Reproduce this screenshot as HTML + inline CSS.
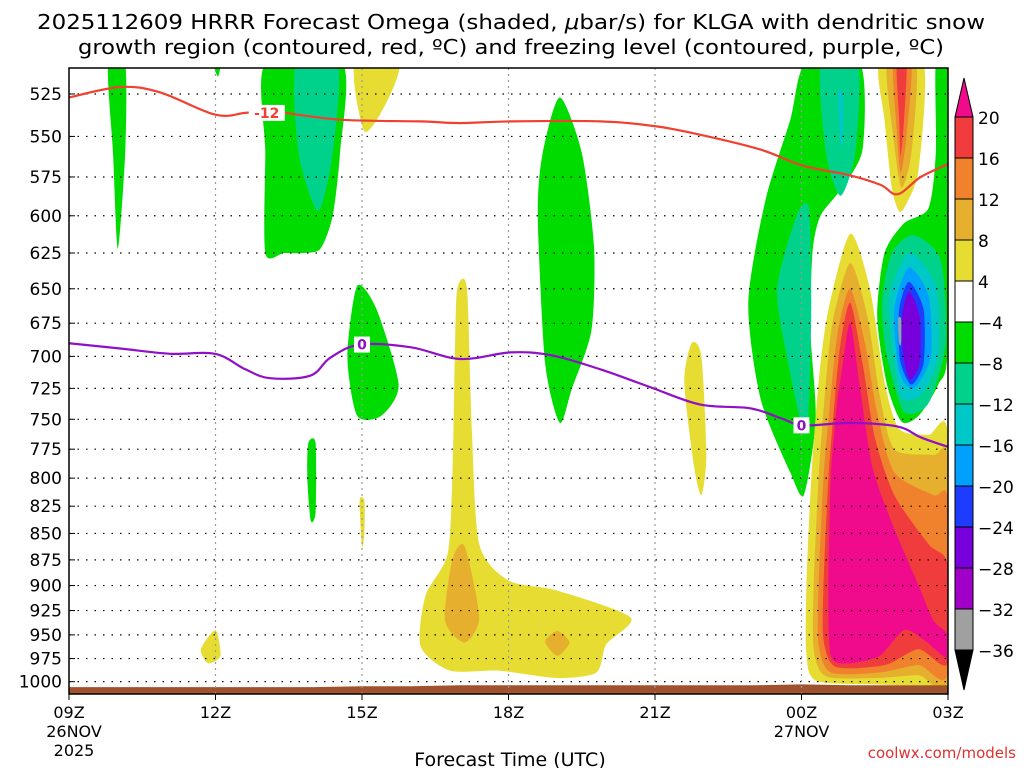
<!DOCTYPE html>
<html><head><meta charset="utf-8">
<style>
body{margin:0;background:#fff;width:1024px;height:768px;overflow:hidden;font-family:"DejaVu Sans","Liberation Sans",sans-serif;}
svg text{font-family:"DejaVu Sans","Liberation Sans",sans-serif;}
</style></head>
<body>
<svg id="chart" width="1024" height="768" viewBox="0 0 1024 768" xmlns="http://www.w3.org/2000/svg">
<text x="37" y="29" font-size="20" textLength="948" lengthAdjust="spacingAndGlyphs" fill="#000">2025112609 HRRR Forecast Omega (shaded, <tspan font-style="italic">μ</tspan>bar/s) for KLGA with dendritic snow</text>
<text x="78" y="54" font-size="20" textLength="866" lengthAdjust="spacingAndGlyphs" fill="#000">growth region (contoured, red, ºC) and freezing level (contoured, purple, ºC)</text>
<g id="fills"></g>
<g id="grid"></g>
<g id="lines"></g>
<g id="axes"></g>
<g id="cbar"></g>
<text x="510" y="766" font-size="19" text-anchor="middle">Forecast Time (UTC)</text>
<text x="1016" y="758" font-size="15" text-anchor="end" fill="#e03030">coolwx.com/models</text>
</svg>
<script>
const NS='http://www.w3.org/2000/svg';
const pLevels=[525,550,575,600,625,650,675,700,725,750,775,800,825,850,875,900,925,950,975,1000];
const timeLabels=['09Z','12Z','15Z','18Z','21Z','00Z','03Z'];
const timeHours=[0,3,6,9,12,15,18];
const dateLabels=[[0,'26NOV'],[0,'2025'],[15,'27NOV']];
const cbLevels=['20','16','12','8','4','−4','−8','−12','−16','−20','−24','−28','−32','−36'];
const cbColors=['#f03c3c','#f0822d','#e6af2d','#e6dc32','#ffffff','#00dc00','#00d28c','#00c8c8','#00a0ff','#1e3cff','#7800dc','#a000c8','#a0a0a0'];
const C={mag:'#f00a8c',red:'#f03c3c',org:'#f0822d',gold:'#e6af2d',yel:'#e6dc32',grn:'#00dc00',tgr:'#00d28c',cyn:'#00c8c8',sky:'#00a0ff',blu:'#1e3cff',vio:'#7800dc',pur:'#a000c8',gry:'#a0a0a0'};
const redHours=[0,1.05,1.86,2.99,3.61,4.12,5.55,7.19,8.01,9.04,10.88,12.03,12.93,14.16,15.04,16.0,16.62,16.97,17.44,18.0];
const redP=[527,521,524,537,536,535,540,541,542,541,541,544,549,558,568,574,580,586,575,567];
const purHours=[0,1.05,2.07,2.99,3.61,4.12,4.94,5.35,5.96,6.99,8.01,9.04,9.86,10.88,11.9,12.93,13.95,14.57,15.04,16.0,16.97,17.44,18.0];
const purP=[690,694,698,698,710,717,715,701,691,693,702,697,699,710,724,738,741,749,755,753,756,765,773];
const sfcP=[1006,1006,1006,1006,1006,1006,1005,1005,1004,1004,1004,1004,1004,1004,1004,1003,1004,1004,1004];
const regions=[
['grn',[[0.8,508],[1.15,508],[1.15,560],[1.0,622],[0.9,560]]],
['grn',[[2.95,508],[3.1,508],[3.05,515]]],
['grn',[[4.02,508],[5.6,508],[5.55,560],[5.4,600],[5.15,622],[4.8,625],[4.4,625],[4.02,625],[4.02,560]]],
['tgr',[[4.65,508],[5.5,508],[5.4,560],[5.1,597],[4.7,560]]],
['yel',[[5.85,508],[6.75,508],[6.5,530],[6.05,547]]],
['grn',[[9.6,600],[9.7,560],[10.05,527],[10.5,560],[10.75,620],[10.7,680],[10.3,725],[10.05,753],[9.75,705]]],
['grn',[[5.7,700],[5.9,648],[6.3,665],[6.75,722],[6.4,747],[5.9,747]]],
['yel',[[7.9,700],[7.95,650],[8.15,650],[8.25,760],[8.4,860],[9.0,895],[10.0,905],[11.5,932],[11.0,960],[10.8,990],[10.0,996],[8.8,988],[7.8,988],[7.2,962],[7.3,910],[7.75,870],[7.85,800]]],
['gold',[[7.85,875],[8.1,862],[8.4,932],[8.1,958],[7.7,935]]],
['gold',[[9.75,957],[10.0,946],[10.25,958],[10.0,972]]],
['yel',[[12.6,720],[12.75,690],[12.95,700],[13.05,780],[12.95,815],[12.8,790]]],
['grn',[[4.9,770],[5.05,770],[5.05,830],[4.95,838],[4.88,800]]],
['yel',[[5.95,820],[6.05,820],[6.05,850],[6.0,862]]],
['yel',[[2.7,965],[3.0,945],[3.1,972],[2.85,980]]],
['grn',[[15.08,508],[16.2,508],[16.25,558],[15.8,583],[15.39,600],[15.23,623],[15.18,679],[15.29,750],[15.05,815],[14.77,795],[14.16,733],[13.91,660],[14.26,590],[14.77,540]]],
['tgr',[[15.4,508],[16.15,508],[16.1,560],[15.8,587],[15.5,560]]],
['cyn',[[15.75,525],[15.85,525],[15.85,550],[15.8,555]]],
['tgr',[[14.9,600],[15.15,595],[15.2,660],[15.15,740],[15.05,762],[14.7,700],[14.5,650]]],
['grn',[[17.75,508],[18.0,508],[18.0,690],[17.8,722],[17.4,747],[17.05,752],[16.75,722],[16.55,670],[16.7,625],[17.1,605],[17.6,595],[17.75,560]]],
['tgr',[[17.3,613],[17.85,630],[17.95,690],[17.6,737],[17.1,744],[16.75,700],[16.65,660],[16.85,625]]],
['cyn',[[17.2,625],[17.75,648],[17.8,700],[17.45,730],[17.05,732],[16.85,690],[16.8,655]]],
['sky',[[17.2,635],[17.6,655],[17.65,700],[17.3,725],[17.0,712],[16.9,665]]],
['blu',[[17.2,645],[17.5,665],[17.5,705],[17.25,722],[17.02,703],[17.0,665]]],
['vio',[[17.2,652],[17.42,670],[17.42,705],[17.22,718],[17.08,698],[17.06,670]]],
['gry',[[16.98,672],[17.04,672],[17.04,690],[17.0,690]]],
['yel',[[16.6,508],[17.5,508],[17.4,570],[17.15,592],[17.0,597],[16.85,582],[16.7,540]]],
['gold',[[16.75,508],[17.35,508],[17.25,560],[17.05,582],[16.9,555]]],
['org',[[16.88,508],[17.25,508],[17.15,550],[17.03,572],[16.95,545]]],
['red',[[16.95,508],[17.15,508],[17.1,540],[17.03,562],[17.0,540]]],
['yel',[[15.55,665],[16.0,612],[16.4,650],[16.7,720],[17.0,758],[17.6,763],[18.0,763],[18.0,1003],[17.5,1004],[16.5,1003],[15.3,999],[15.1,970],[15.1,900],[15.2,800],[15.35,720]]],
['gold',[[15.65,672],[16.0,632],[16.35,670],[16.6,730],[16.9,775],[17.7,780],[18.0,785],[18.0,997],[17.4,993],[16.5,996],[15.5,994],[15.25,965],[15.25,900],[15.35,800],[15.5,720]]],
['org',[[15.75,680],[16.0,650],[16.3,690],[16.55,745],[16.9,795],[17.7,815],[18.0,820],[18.0,990],[17.4,982],[16.6,990],[15.6,990],[15.35,960],[15.35,900],[15.45,800],[15.6,730]]],
['red',[[15.8,690],[16.0,660],[16.25,705],[16.5,765],[16.9,815],[17.6,860],[18.0,880],[18.0,980],[17.4,965],[16.7,982],[15.7,984],[15.45,955],[15.45,900],[15.55,800],[15.68,735]]],
['mag',[[15.85,705],[16.0,675],[16.2,725],[16.45,790],[16.85,840],[17.4,900],[17.7,935],[18.0,950],[18.0,975],[17.5,955],[17.1,945],[16.6,972],[16.0,980],[15.6,972],[15.55,900],[15.6,800],[15.72,740]]]
];
const X0=69,X1=948,Y0=68,Y1=694,HX=(X1-X0)/18;
function xs(h){return X0+h*HX;}
function ys(p){return 94+912*Math.log(p/525);}
function mk(tag,attrs,parent){const e=document.createElementNS(NS,tag);for(const k in attrs)e.setAttribute(k,attrs[k]);parent.appendChild(e);return e;}
function smoothPath(pts,k){
  const n=pts.length;let d='M'+pts[0][0].toFixed(1)+','+pts[0][1].toFixed(1);
  for(let i=0;i<n;i++){const p0=pts[(i-1+n)%n],p1=pts[i],p2=pts[(i+1)%n],p3=pts[(i+2)%n];
    const c1=[p1[0]+(p2[0]-p0[0])/k,p1[1]+(p2[1]-p0[1])/k],c2=[p2[0]-(p3[0]-p1[0])/k,p2[1]-(p3[1]-p1[1])/k];
    d+='C'+c1[0].toFixed(1)+','+c1[1].toFixed(1)+' '+c2[0].toFixed(1)+','+c2[1].toFixed(1)+' '+p2[0].toFixed(1)+','+p2[1].toFixed(1);}
  return d+'Z';}
const svg=document.getElementById('chart');
const fills=document.getElementById('fills');
const clip=mk('clipPath',{id:'plotclip'},svg);
mk('rect',{x:X0,y:Y0,width:X1-X0,height:Y1-Y0},clip);
fills.setAttribute('clip-path','url(#plotclip)');
regions.forEach((r,i)=>{
  const pts=r[1].map(q=>[xs(q[0]),ys(q[1])]);
  const el=mk('path',{d:smoothPath(pts,8),fill:C[r[0]]},fills);
  
  
});
let gd='M'+xs(0)+','+Y1;
sfcP.forEach((p,i)=>{gd+='L'+xs(i).toFixed(1)+','+ys(p).toFixed(1);});
gd+='L'+xs(18)+','+Y1+'Z';
const gr=mk('path',{d:gd,fill:'#a0522d'},fills);


const grid=document.getElementById('grid');
pLevels.forEach(p=>{
  const l=mk('line',{x1:X0,x2:X1,y1:ys(p),y2:ys(p),stroke:'#000','stroke-width':1.2,'stroke-dasharray':'1.5,7'},grid);
  
  
});
timeHours.forEach(h=>{if(h>0&&h<18){
  const l=mk('line',{x1:xs(h),x2:xs(h),y1:Y0,y2:Y1,stroke:'#999','stroke-width':1.2,'stroke-dasharray':'2,4'},grid);
  
  
}});
const lines=document.getElementById('lines');
function drawLine(hs,ps,col,name,lbls){
  let pts=hs.map((h,i)=>[xs(h),ys(ps[i])]);
  let d='M'+pts[0][0]+','+pts[0][1];
  for(let i=0;i<pts.length-1;i++){const p0=pts[Math.max(i-1,0)],p1=pts[i],p2=pts[i+1],p3=pts[Math.min(i+2,pts.length-1)];
    d+='C'+(p1[0]+(p2[0]-p0[0])/6).toFixed(1)+','+(p1[1]+(p2[1]-p0[1])/6).toFixed(1)+' '+(p2[0]-(p3[0]-p1[0])/6).toFixed(1)+','+(p2[1]-(p3[1]-p1[1])/6).toFixed(1)+' '+p2[0].toFixed(1)+','+p2[1].toFixed(1);}
  const l=mk('path',{d:d,fill:'none',stroke:col,'stroke-width':2.2},lines);
  
  
  lbls.forEach(lb=>{
    const bx=xs(lb[0]),by=ys(lb[1]);
    mk('rect',{x:bx-(lb[2].length*5+3),y:by-8,width:lb[2].length*10+6,height:16,fill:'#fff'},lines);
    const t=mk('text',{x:bx,y:by+5,'font-size':14,'font-weight':'bold','text-anchor':'middle',fill:col},lines);
    t.textContent=lb[2];
    
    
  });
}
drawLine(redHours,redP,'#f04030','dgz-minus12-contour',[[4.05,536,'-12']]);
drawLine(purHours,purP,'#9010c8','freezing-level-contour',[[6.0,691,'0'],[15.0,755,'0']]);
const ax=document.getElementById('axes');
const fr=mk('rect',{x:X0,y:Y0,width:X1-X0,height:Y1-Y0,fill:'none',stroke:'#000','stroke-width':1.5},ax);


pLevels.forEach(p=>{
  mk('line',{x1:X0,x2:X0+6,y1:ys(p),y2:ys(p),stroke:'#000'},ax);
  const t=mk('text',{x:X0-7,y:ys(p)+6,'font-size':17,'text-anchor':'end'},ax);
  t.textContent=p;
  
  
});
timeHours.forEach((h,i)=>{
  mk('line',{x1:xs(h),x2:xs(h),y1:Y1,y2:Y1+6,stroke:'#000'},ax);
  const t=mk('text',{x:xs(h),y:718,'font-size':16,'text-anchor':'middle'},ax);
  t.textContent=timeLabels[i];
  
  
});
dateLabels.forEach((d,i)=>{
  const t=mk('text',{x:xs(d[0])+(d[0]===0?5:0),y:737+(i===1?19:0),'font-size':16,'text-anchor':'middle'},ax);
  t.textContent=d[1];
  
  
});
const cb=document.getElementById('cbar');
const CBX=955,CBW=18,CBT=117,CBH=41;
const tri1=mk('path',{d:`M${CBX},${CBT}L${CBX+CBW/2},78L${CBX+CBW},${CBT}Z`,fill:C.mag,stroke:'#000'},cb);


cbColors.forEach((c,i)=>{
  const r=mk('rect',{x:CBX,y:CBT+i*CBH,width:CBW,height:CBH,fill:c,stroke:'#000','stroke-width':1},cb);
  
  
});
const yb=CBT+cbColors.length*CBH;
const tri2=mk('path',{d:`M${CBX},${yb}L${CBX+CBW/2},690L${CBX+CBW},${yb}Z`,fill:'#000',stroke:'#000'},cb);


cbLevels.forEach((l,i)=>{
  const t=mk('text',{x:978,y:CBT+i*CBH+7,'font-size':17},cb);
  t.textContent=l;
  
  
});
</script>
</body></html>
